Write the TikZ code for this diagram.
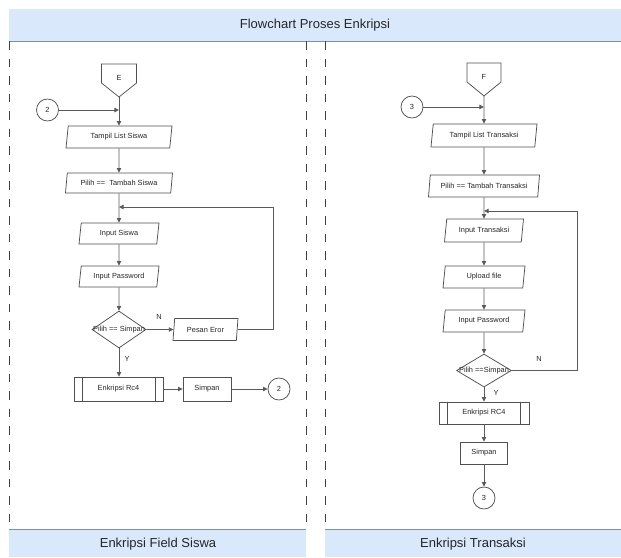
\documentclass[tikz,border=0pt]{standalone}
\usepackage{fontspec}
\setmainfont{Liberation Sans}
\usetikzlibrary{shapes.geometric,arrows.meta,calc}

\definecolor{lanefill}{HTML}{DAE8FC}
\definecolor{laneline}{HTML}{7F8FAA}
\definecolor{shapeline}{HTML}{505050}
\definecolor{flowline}{HTML}{5A5A5A}
\definecolor{txt}{HTML}{262626}

\tikzset{
  small/.style={font=\fontsize{7.4}{8.5}\selectfont, text=txt},
  txtnode/.style={small, inner sep=0pt},
  title/.style={font=\fontsize{13}{15}\selectfont, text=black!85, inner sep=0pt},
  base/.style={small, draw=shapeline, line width=0.75pt, inner sep=0pt},
  io/.style={base, trapezium, trapezium left angle=72, trapezium right angle=108,
             trapezium stretches body},
  proc/.style={base, rectangle},
  decision/.style={base, diamond},
  circ/.style={base, circle, minimum size=22},
  pentline/.style={draw=shapeline, line width=0.75pt},
  conn/.style={draw=flowline, line width=0.85pt, -{Triangle[length=4.6pt,width=4.4pt]}},
  lanedash/.style={draw=black!75, line width=1pt, dash pattern=on 8.5pt off 9pt},
  lbl/.style={small, inner sep=0pt}
}

\begin{document}
\begin{tikzpicture}[x=1pt,y=-1pt]
\useasboundingbox (0,0) rectangle (621,557);

% ---------- swimlane frame ----------
\fill[lanefill] (9,9) rectangle (621,41);
\draw[laneline, line width=1pt] (9,41) -- (621,41);
\node[title] (head) at (315,25) {Flowchart Proses Enkripsi};

\fill[lanefill] (9,529) rectangle (306,557);
\draw[laneline, line width=1pt] (9,529) -- (306,529);
\node[title] (laneA) at (158,544) {Enkripsi Field Siswa};

\fill[lanefill] (325,529) rectangle (621,557);
\draw[laneline, line width=1pt] (325,529) -- (621,529);
\node[title] (laneB) at (473,544) {Enkripsi Transaksi};

\draw[lanedash] (9,41) -- (9,529);
\draw[lanedash] (306,41) -- (306,529);
\draw[lanedash] (325,41) -- (325,529);

% ---------- lane 1: Enkripsi Field Siswa ----------
\node[txtnode] (E) at (119,78) {E};
\draw[pentline] ($(E)+(-17.5,-14)$) -- ($(E)+(17.5,-14)$) -- ($(E)+(17.5,5)$)
  -- ($(E)+(0,19)$) coordinate (Etip) -- ($(E)+(-17.5,5)$) -- cycle;

\node[circ] (c2a) at (47.5,110) {2};
\coordinate (mA) at (Etip |- c2a);
\draw[conn] (c2a) -- (mA);

\node[io, minimum width=106, minimum height=22] (tls) at (119,137) {Tampil List Siswa};
\draw[conn] (Etip) -- (tls);

\node[io, minimum width=107, minimum height=20] (pts) at (119,183) {Pilih ==\ \ Tambah Siswa};
\draw[conn] (tls) -- (pts);

\node[io, minimum width=80, minimum height=21] (is) at (119,233.5) {Input Siswa};
\coordinate (jA) at (119,207);
\draw[conn] (pts) -- (is);

\node[io, minimum width=80, minimum height=21] (ipA) at (119,276.5) {Input Password};
\draw[conn] (is) -- (ipA);

\node[decision, minimum width=54, minimum height=37] (dA) at (119,329.5) {};
\node[txtnode] (dAt) at (dA) {Pilih == Simpan};
\draw[conn] (ipA) -- (dA);

\node[io, minimum width=65, minimum height=22] (pe) at (205.5,329.5) {Pesan Eror};
\draw[conn] (dA) -- (pe);
\node[lbl] (nA) at (159,317) {N};

\coordinate (lA) at (273,207);
\draw[conn] (pe.east) -| (lA) -- (jA);

\node[proc, minimum width=89, minimum height=24] (encA) at (118.5,389) {Enkripsi Rc4};
\draw[pentline] ($(encA.north west)+(8.5,0)$) -- ($(encA.south west)+(8.5,0)$);
\draw[pentline] ($(encA.north east)+(-8.5,0)$) -- ($(encA.south east)+(-8.5,0)$);
\draw[conn] (dA) -- (dA |- encA.north);
\node[lbl] (yA) at (127,359) {Y};

\node[proc, minimum width=48, minimum height=24] (svA) at (207,389) {Simpan};
\draw[conn] (encA) -- (svA);

\node[circ] (c2b) at (279,389) {2};
\draw[conn] (svA) -- (c2b);

% ---------- lane 2: Enkripsi Transaksi ----------
\node[txtnode] (F) at (484,77) {F};
\draw[pentline] ($(F)+(-17,-14)$) -- ($(F)+(17,-14)$) -- ($(F)+(17,5)$)
  -- ($(F)+(0,19)$) coordinate (Ftip) -- ($(F)+(-17,5)$) -- cycle;

\node[circ] (c3a) at (412,107) {3};
\coordinate (mB) at (Ftip |- c3a);
\draw[conn] (c3a) -- (mB);

\node[io, minimum width=106, minimum height=23] (tlt) at (484,135.5) {Tampil List Transaksi};
\draw[conn] (Ftip) -- (tlt);

\node[io, minimum width=111, minimum height=22] (ptt) at (484,186) {Pilih == Tambah Transaksi};
\draw[conn] (tlt) -- (ptt);

\node[io, minimum width=79, minimum height=23] (it) at (484,230.5) {Input Transaksi};
\coordinate (jB) at (484,211);
\draw[conn] (ptt) -- (it);

\node[io, minimum width=82, minimum height=22] (uf) at (484,277) {Upload file};
\draw[conn] (it) -- (uf);

\node[io, minimum width=82, minimum height=22] (ipB) at (484,321) {Input Password};
\draw[conn] (uf) -- (ipB);

\node[decision, minimum width=55, minimum height=33] (dB) at (484,370.5) {};
\node[txtnode] (dBt) at (dB) {Pilih ==Simpan};
\draw[conn] (ipB) -- (dB);
\node[lbl] (nB) at (539,359) {N};

\coordinate (lB) at (577,211);
\draw[conn] (dB.east) -| (lB) -- (jB);

\node[proc, minimum width=90, minimum height=22] (encB) at (484,413) {Enkripsi RC4};
\draw[pentline] ($(encB.north west)+(9,0)$) -- ($(encB.south west)+(9,0)$);
\draw[pentline] ($(encB.north east)+(-9,0)$) -- ($(encB.south east)+(-9,0)$);
\draw[conn] (dB) -- (encB);
\node[lbl] (yB) at (496,393) {Y};

\node[proc, minimum width=47, minimum height=22] (svB) at (484,453) {Simpan};
\draw[conn] (encB) -- (svB);

\node[circ] (c3b) at (484,498) {3};
\draw[conn] (svB) -- (c3b);

\end{tikzpicture}
\end{document}
